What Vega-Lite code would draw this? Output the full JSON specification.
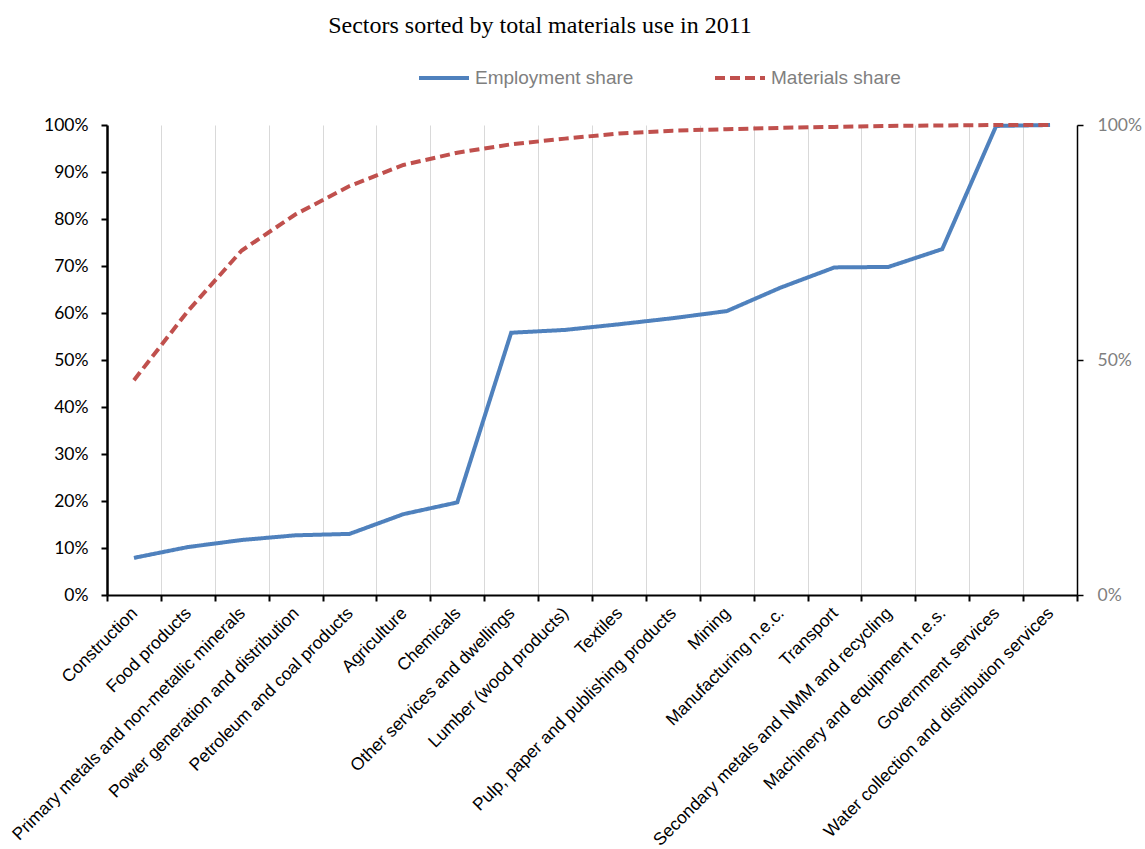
{
  "$schema": "https://vega.github.io/schema/vega-lite/v6.json",
  "width": 970,
  "height": 470,
  "autosize": "none",
  "padding": {"left": 107, "top": 125, "right": 68, "bottom": 254},
  "background": "white",
  "title": {
    "text": "Sectors sorted by total materials use in 2011",
    "font": "Liberation Serif",
    "fontSize": 24,
    "fontWeight": "normal",
    "color": "black",
    "anchor": "middle",
    "dx": -52,
    "offset": 13
  },
  "config": {
    "view": {"stroke": null},
    "axisX": {
      "title": null,
      "tickBand": "extent",
      "grid": true,
      "gridColor": "#D9D9D9",
      "gridWidth": 1,
      "domainColor": "black",
      "domainWidth": 2,
      "tickColor": "black",
      "tickWidth": 2,
      "tickSize": 6,
      "labelAngle": -45,
      "labelFont": "Liberation Sans",
      "labelFontSize": 17.5,
      "labelColor": "black",
      "labelPadding": 3,
      "labelOffset": -6,
      "labelLimit": 0
    }
  },
  "data": {
    "values": [
      {"sector": "Construction", "series": "Employment share", "value": 0.079},
      {"sector": "Food products", "series": "Employment share", "value": 0.102},
      {"sector": "Primary metals and non-metallic minerals", "series": "Employment share", "value": 0.117},
      {"sector": "Power generation and distribution", "series": "Employment share", "value": 0.127},
      {"sector": "Petroleum and coal products", "series": "Employment share", "value": 0.130},
      {"sector": "Agriculture", "series": "Employment share", "value": 0.172},
      {"sector": "Chemicals", "series": "Employment share", "value": 0.197},
      {"sector": "Other services and dwellings", "series": "Employment share", "value": 0.558},
      {"sector": "Lumber (wood products)", "series": "Employment share", "value": 0.564},
      {"sector": "Textiles", "series": "Employment share", "value": 0.576},
      {"sector": "Pulp, paper and publishing products", "series": "Employment share", "value": 0.589},
      {"sector": "Mining", "series": "Employment share", "value": 0.604},
      {"sector": "Manufacturing n.e.c.", "series": "Employment share", "value": 0.654},
      {"sector": "Transport", "series": "Employment share", "value": 0.697},
      {"sector": "Secondary metals and NMM and recycling", "series": "Employment share", "value": 0.698},
      {"sector": "Machinery and equipment n.e.s.", "series": "Employment share", "value": 0.736},
      {"sector": "Government services", "series": "Employment share", "value": 0.998},
      {"sector": "Water collection and distribution services", "series": "Employment share", "value": 1.0},
      {"sector": "Construction", "series": "Materials share", "value": 0.457},
      {"sector": "Food products", "series": "Materials share", "value": 0.604},
      {"sector": "Primary metals and non-metallic minerals", "series": "Materials share", "value": 0.733},
      {"sector": "Power generation and distribution", "series": "Materials share", "value": 0.810},
      {"sector": "Petroleum and coal products", "series": "Materials share", "value": 0.870},
      {"sector": "Agriculture", "series": "Materials share", "value": 0.915},
      {"sector": "Chemicals", "series": "Materials share", "value": 0.941},
      {"sector": "Other services and dwellings", "series": "Materials share", "value": 0.959},
      {"sector": "Lumber (wood products)", "series": "Materials share", "value": 0.971},
      {"sector": "Textiles", "series": "Materials share", "value": 0.982},
      {"sector": "Pulp, paper and publishing products", "series": "Materials share", "value": 0.988},
      {"sector": "Mining", "series": "Materials share", "value": 0.991},
      {"sector": "Manufacturing n.e.c.", "series": "Materials share", "value": 0.994},
      {"sector": "Transport", "series": "Materials share", "value": 0.996},
      {"sector": "Secondary metals and NMM and recycling", "series": "Materials share", "value": 0.998},
      {"sector": "Machinery and equipment n.e.s.", "series": "Materials share", "value": 0.999},
      {"sector": "Government services", "series": "Materials share", "value": 1.0},
      {"sector": "Water collection and distribution services", "series": "Materials share", "value": 1.0}
    ]
  },
  "encoding": {
    "x": {"field": "sector", "type": "nominal", "sort": null, "bandPosition": 0.5, "scale": {"type": "band", "paddingInner": 0, "paddingOuter": 0}},
    "color": {
      "field": "series",
      "type": "nominal",
      "scale": {"domain": ["Employment share", "Materials share"], "range": ["#4F81BD", "#C0504D"]},
      "legend": {
        "orient": "none",
        "legendX": 310,
        "legendY": -74,
        "direction": "horizontal",
        "title": null,
        "padding": 0,
        "symbolType": "stroke",
        "symbolSize": 2500,
        "symbolStrokeWidth": 4,
        "labelFont": "Liberation Sans",
        "labelFontSize": 19,
        "labelColor": "#7F7F7F",
        "labelOffset": 4,
        "columnPadding": 73
      }
    },
    "strokeDash": {
      "field": "series",
      "type": "nominal",
      "scale": {"domain": ["Employment share", "Materials share"], "range": [[1, 0], [10, 5]]},
      "legend": {
        "orient": "none",
        "legendX": 310,
        "legendY": -74,
        "direction": "horizontal",
        "title": null,
        "padding": 0,
        "symbolType": "stroke",
        "symbolSize": 2500,
        "symbolStrokeWidth": 4,
        "labelFont": "Liberation Sans",
        "labelFontSize": 19,
        "labelColor": "#7F7F7F",
        "labelOffset": 4,
        "columnPadding": 73
      }
    }
  },
  "layer": [
    {
      "transform": [{"filter": "datum.series === 'Employment share'"}],
      "mark": {"type": "line", "strokeWidth": 4, "strokeCap": "butt"},
      "encoding": {
        "y": {
          "field": "value",
          "type": "quantitative",
          "scale": {"domain": [0, 1], "nice": false},
          "axis": {
            "orient": "left",
            "title": null,
            "format": ".0%",
            "values": [0, 0.1, 0.2, 0.3, 0.4, 0.5, 0.6, 0.7, 0.8, 0.9, 1.0],
            "grid": false,
            "domainColor": "black",
            "domainWidth": 2.5,
            "tickColor": "black",
            "tickWidth": 2,
            "tickSize": 6,
            "labelFont": "Lato",
            "labelFontSize": 17.5,
            "labelColor": "black",
            "labelPadding": 13
          }
        }
      }
    },
    {
      "transform": [{"filter": "datum.series === 'Materials share'"}],
      "mark": {"type": "line", "strokeWidth": 4, "strokeCap": "butt"},
      "encoding": {
        "y": {
          "field": "value",
          "type": "quantitative",
          "scale": {"domain": [0, 1], "nice": false},
          "axis": {
            "orient": "right",
            "title": null,
            "format": ".0%",
            "values": [0, 0.5, 1.0],
            "grid": false,
            "domainColor": "black",
            "domainWidth": 1.5,
            "tickColor": "black",
            "tickWidth": 1.5,
            "tickSize": 6,
            "labelFont": "Lato",
            "labelFontSize": 17.5,
            "labelColor": "#7F7F7F",
            "labelPadding": 14
          }
        }
      }
    }
  ],
  "resolve": {"axis": {"y": "independent"}}
}
